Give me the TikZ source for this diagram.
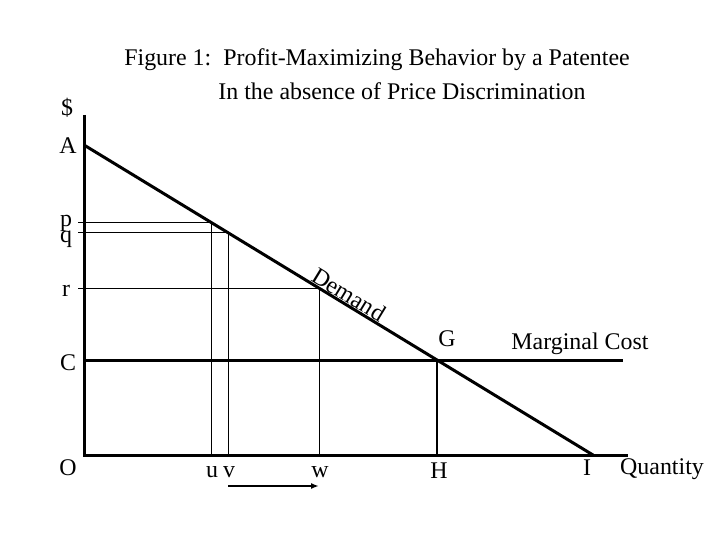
\documentclass[tikz,border=0pt]{standalone}
\usepackage{fontspec}
\setmainfont{Liberation Serif}
\usetikzlibrary{arrows.meta}
\begin{document}
\begin{tikzpicture}[x=1bp,y=-1bp,
  heavy/.style={line width=3bp},
  light/.style={line width=0.9bp},
  mid/.style={line width=1.6bp},
  lbl/.style={font=\fontsize{24}{28}\selectfont, inner sep=0pt}]
\useasboundingbox (0,0) rectangle (720,540);
% key points
\coordinate (Ytop) at (84,115);
\coordinate (O) at (84,455);
\coordinate (Xend) at (628,455);
\coordinate (A) at (84,145);
\coordinate (I) at (593,455);
\coordinate (P) at (211,222.3);
\coordinate (Q) at (228,232.7);
\coordinate (R) at (319,288);
\coordinate (G) at (437,360);
\coordinate (Cl) at (84,360);
\coordinate (Cr) at (623,360);
\coordinate (pt) at (78,222.3);
\coordinate (qt) at (78,232.7);
\coordinate (rt) at (78,288);
\coordinate (ub) at (211,455);
\coordinate (vb) at (228,455);
\coordinate (wb) at (319,455);
\coordinate (Hb) at (437,455);
\coordinate (arS) at (228,486);
\coordinate (arE) at (319,486);
% thin guide lines
\draw[light] (pt) -- (P) -- (ub);
\draw[light] (qt) -- (Q) -- (vb);
\draw[light] (rt) -- (R) -- (wb);
\draw[mid] (G) -- (Hb);
% axes
\draw[heavy] (Ytop) -- (O) -- (Xend);
% marginal cost
\draw[heavy] (Cl) -- (Cr);
% demand
\draw[heavy] (A) -- node[pos=0.51, sloped, above, lbl, inner sep=0.5bp] (dem) {Demand} (I);
% arrow
\draw[line width=1.6bp, -{Latex[length=8bp,width=6bp]}] (arS) -- (arE);
% title
\node[lbl] (t1) at (377,60) {Figure 1:\ \ Profit-Maximizing Behavior by a Patentee};
\node[lbl] (t2) at (402,91) {In the absence of Price Discrimination};
% axis labels
\node[lbl] (ldollar) at (67,108) {\$};
\node[lbl] (lA) at (68,146) {A};
\node[lbl, anchor=base] (lp) at (66,227) {p};
\node[lbl, anchor=base] (lq) at (66,243) {q};
\node[lbl, anchor=base] (lr) at (66,296) {r};
\node[lbl] (lC) at (68,363) {C};
\node[lbl] (lO) at (68,468) {O};
\node[lbl, anchor=base] (lu) at (212,477) {u};
\node[lbl, anchor=base] (lv) at (229,477) {v};
\node[lbl, anchor=base] (lw) at (320,477) {w};
\node[lbl] (lH) at (439,471) {H};
\node[lbl] (lI) at (587,468) {I};
\node[lbl] (lQ) at (662,469) {Quantity};
\node[lbl] (lG) at (447,339) {G};
\node[lbl] (lMC) at (580,344) {Marginal Cost};
\end{tikzpicture}
\end{document}
